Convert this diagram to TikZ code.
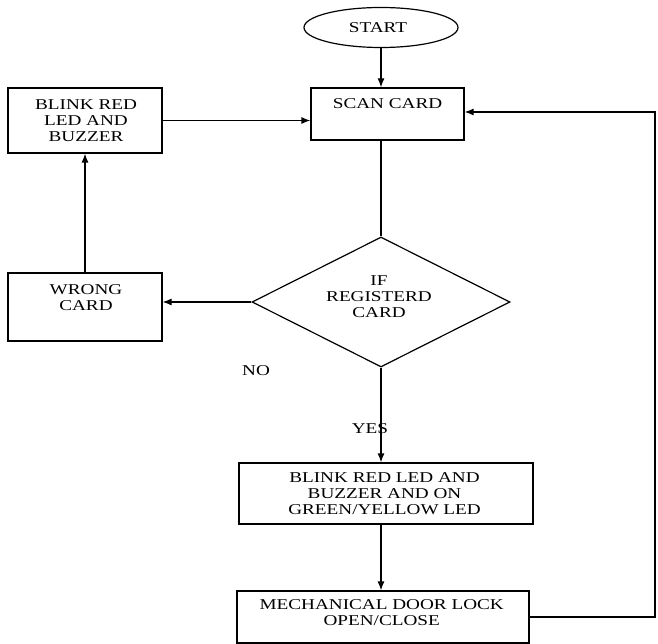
\documentclass[tikz,border=0pt]{standalone}
\usepackage{fontspec}
\setmainfont{Liberation Serif}[FakeStretch=1.28]
\usetikzlibrary{shapes.geometric,arrows.meta}
\begin{document}
\begin{tikzpicture}[x=1pt,y=-1pt,
  box/.style={draw, line width=1.2pt, inner sep=0pt},
  txt/.style={inner sep=0pt, align=center, font=\fontsize{15}{16}\selectfont},
  conn/.style={line width=1.2pt},
  arr/.style={conn, -{Latex[length=9pt,width=7pt]}}]
\useasboundingbox (0,0) rectangle (658,644);
% shapes
\node[box, ellipse, minimum width=154pt, minimum height=40pt] (start) at (381,27.5) {};
\node[box, minimum width=153pt, minimum height=52pt] (scan) at (387.5,114) {};
\node[box, minimum width=154pt, minimum height=65pt] (blink) at (85,120.5) {};
\node[box, minimum width=154pt, minimum height=68pt] (wrong) at (85,307) {};
\node[box, diamond, minimum width=258pt, minimum height=130pt] (dia) at (381,302) {};
\node[box, minimum width=294pt, minimum height=61pt] (b1) at (386,493.5) {};
\node[box, minimum width=292pt, minimum height=52pt] (mech) at (383,617) {};
% texts
\node[txt] (tstart) at (378,27.5) {START};
\node[txt] (tscan) at (387.5,104) {SCAN CARD};
\node[txt] (tblink) at (86,120.5) {BLINK RED\\LED AND\\BUZZER};
\node[txt] (twrong) at (86,297.5) {WRONG\\CARD};
\node[txt] (tdia) at (379,296.5) {IF\\REGISTERD\\CARD};
\node[txt] (tno) at (256,371) {NO};
\node[txt] (tyes) at (370,429) {YES};
\node[txt] (tb1) at (384.5,494) {BLINK RED LED AND\\BUZZER AND ON\\GREEN/YELLOW LED};
\node[txt] (tmech) at (381.7,613) {MECHANICAL DOOR LOCK\\OPEN/CLOSE};
% connectors
\coordinate (r1) at (655,617);
\coordinate (r2) at (655,112);
\draw[arr] (start.south) -- (start.south |- scan.north);
\draw[conn] (start.south |- scan.south) -- (dia.north);
\draw[arr] (blink.east) -- (blink.east -| scan.west);
\draw[arr] (dia.west) -- (dia.west -| wrong.east);
\draw[arr] (wrong.north) -- (blink.south);
\draw[arr] (dia.south) -- (dia.south |- b1.north);
\draw[arr] (dia.south |- b1.south) -- (dia.south |- mech.north);
\draw[arr] (mech.east) -- (r1) -- (r2) -- (r2 -| scan.east);
\end{tikzpicture}
\end{document}
